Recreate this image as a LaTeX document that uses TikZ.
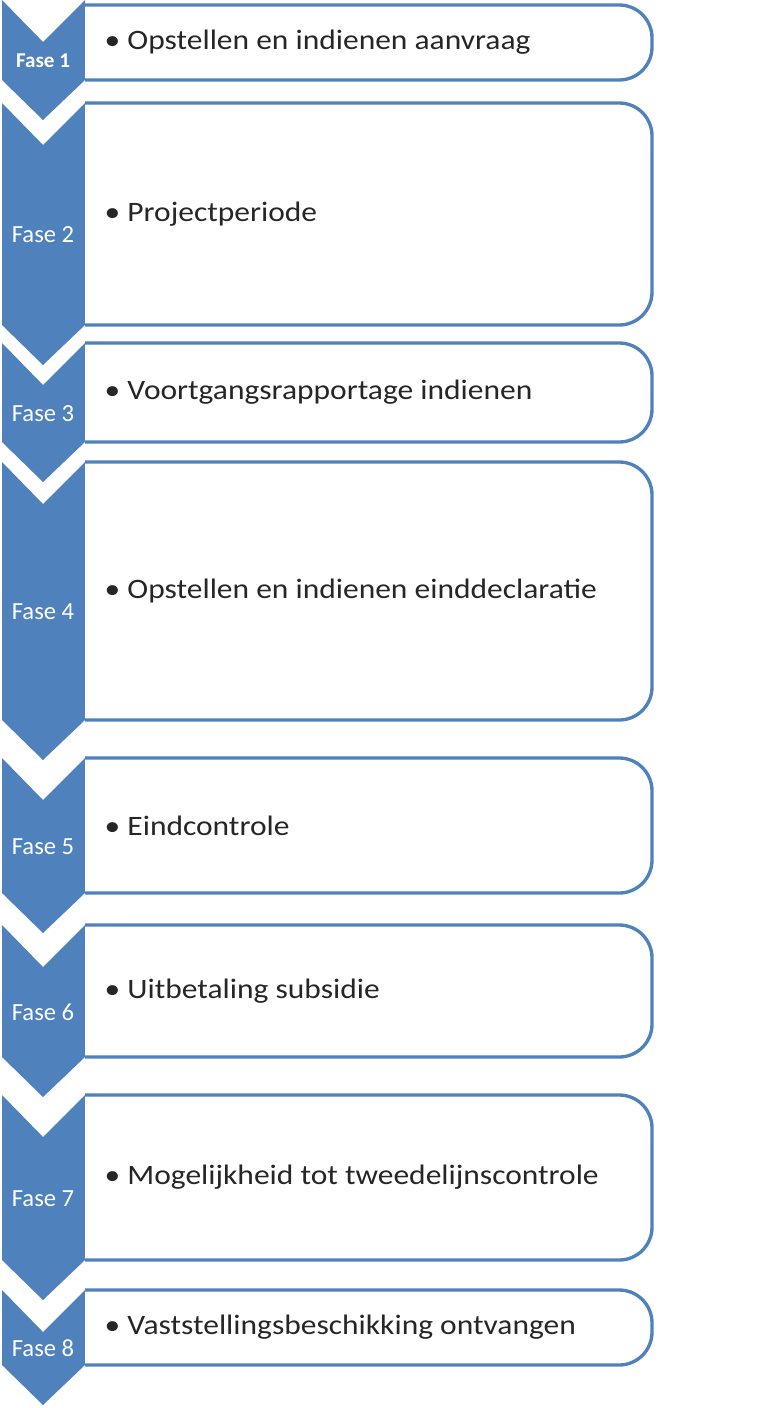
\documentclass[tikz,border=0pt]{standalone}
\usepackage{fontspec}
\setmainfont{Carlito}
\definecolor{faseblue}{HTML}{4F81BD}

\begin{document}
\begin{tikzpicture}[x=0.3mm,y=-0.3mm,
    chevron/.style={fill=faseblue},
    itembox/.style={draw=faseblue,line width=1mm,fill=white},
    fase label/.style={text=white,font=\fontsize{21}{24}\selectfont},
    item label/.style={anchor=west,xscale=1.12,font=\fontsize{24}{28}\selectfont,text=black!85}]

    \useasboundingbox (0,0) rectangle (771,1408);

    \foreach \n/\t/\b/\txt in {1/0/80/Opstellen en indienen aanvraag,
                               2/103/325/Projectperiode,
                               3/343/442/Voortgangsrapportage indienen,
                               4/462/720/Opstellen en indienen einddeclaratie,
                               5/758/893/Eindcontrole,
                               6/925/1057/Uitbetaling subsidie,
                               7/1095/1260/Mogelijkheid tot tweedelijnscontrole,
                               8/1290/1365/Vaststellingsbeschikking ontvangen}{
        \fill[chevron] (2,\t) -- (43,\t+42) -- (85,\t) -- (85,\b) -- (43,\b+40) -- (2,\b) -- cycle;
        \draw[itembox] (85,{max(\t,5)}) {[rounded corners=28] -- (652,{max(\t,5)}) -- (652,\b)} -- (85,\b);
        \node[item label] (item\n) at (100,{(max(\t,5)+\b)/2}) {\textbullet\ \txt};
        \ifnum\n>1
            \node[fase label] (fase\n) at (43,{(\t+42+\b)/2}) {Fase \n};
        \else
            \node[fase label,font=\bfseries\fontsize{18}{20}\selectfont] (fase\n) at (43,{(\t+42+\b)/2}) {Fase \n};
        \fi
    }
\end{tikzpicture}
\end{document}
